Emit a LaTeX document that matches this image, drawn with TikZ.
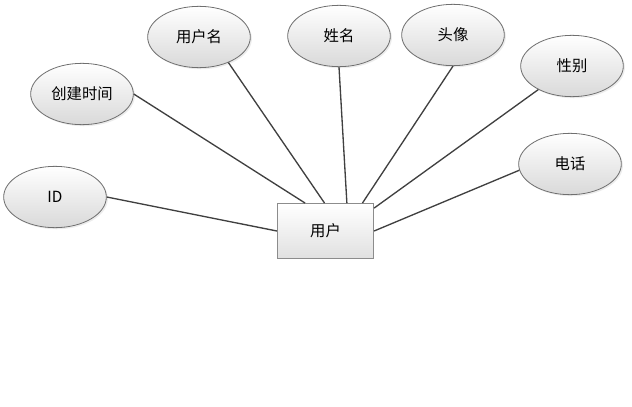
\documentclass[tikz,border=0pt]{standalone}
\usepackage{fontspec}
\setmainfont{Noto Sans CJK SC}
\usepackage{tikz}
\usetikzlibrary{positioning,shapes.geometric,calc,shadows}
\definecolor{erLine}{HTML}{404040}
\definecolor{erBorder}{HTML}{6F6F6F}
\definecolor{erFill}{HTML}{D9D9D9}

\tikzset{
  attr/.style={ellipse, draw=erBorder, line width=0.6pt, top color=white, bottom color=erFill,
    minimum width=77pt, minimum height=46pt, inner sep=0pt,
    drop shadow={shadow xshift=1.2pt, shadow yshift=-1.2pt, opacity=0.15},
    font=\fontsize{11.5}{13}\selectfont},
  entity/.style={rectangle, draw=erBorder!80, line width=0.9pt, top color=white, bottom color=erFill!80,
    minimum width=72pt, minimum height=41pt, inner sep=0pt,
    font=\fontsize{11.5}{13}\selectfont},
  link/.style={erLine, line width=1pt}
}

\begin{document}
\begin{tikzpicture}[x=0.75pt, y=-0.75pt]
    \useasboundingbox (0,0) rectangle (632,407);
    % entity
    \node[entity] (user) at (325.5,231) {用户};
    % attributes
    \foreach \n/\t/\x/\y in {id/ID/55/197, ctime/创建时间/82/94, uname/用户名/199/37,
                             name/姓名/339/36, avatar/头像/453/35, gender/性别/572/66, phone/电话/570/164} {
        \node[attr] (\n) at (\x,\y) {\t};
    }
    % end points on the entity box
    \coordinate (u1) at ($(user.north west)!0.29!(user.north east)$);
    \coordinate (u2) at ($(user.north west)!0.49!(user.north east)$);
    \coordinate (u3) at ($(user.north west)!0.72!(user.north east)$);
    \coordinate (u4) at ($(user.north west)!0.88!(user.north east)$);
    \coordinate (u5) at ($(user.north east)!0.09!(user.south east)$);
    % links
    \foreach \a/\b in {id.east/user.west, ctime.east/u1, uname.-41/u2, name.south/u3,
                       avatar.south/u4, gender.-145/u5, phone.187/user.east} {
        \draw[link] (\a) -- (\b);
    }
\end{tikzpicture}
\end{document}
